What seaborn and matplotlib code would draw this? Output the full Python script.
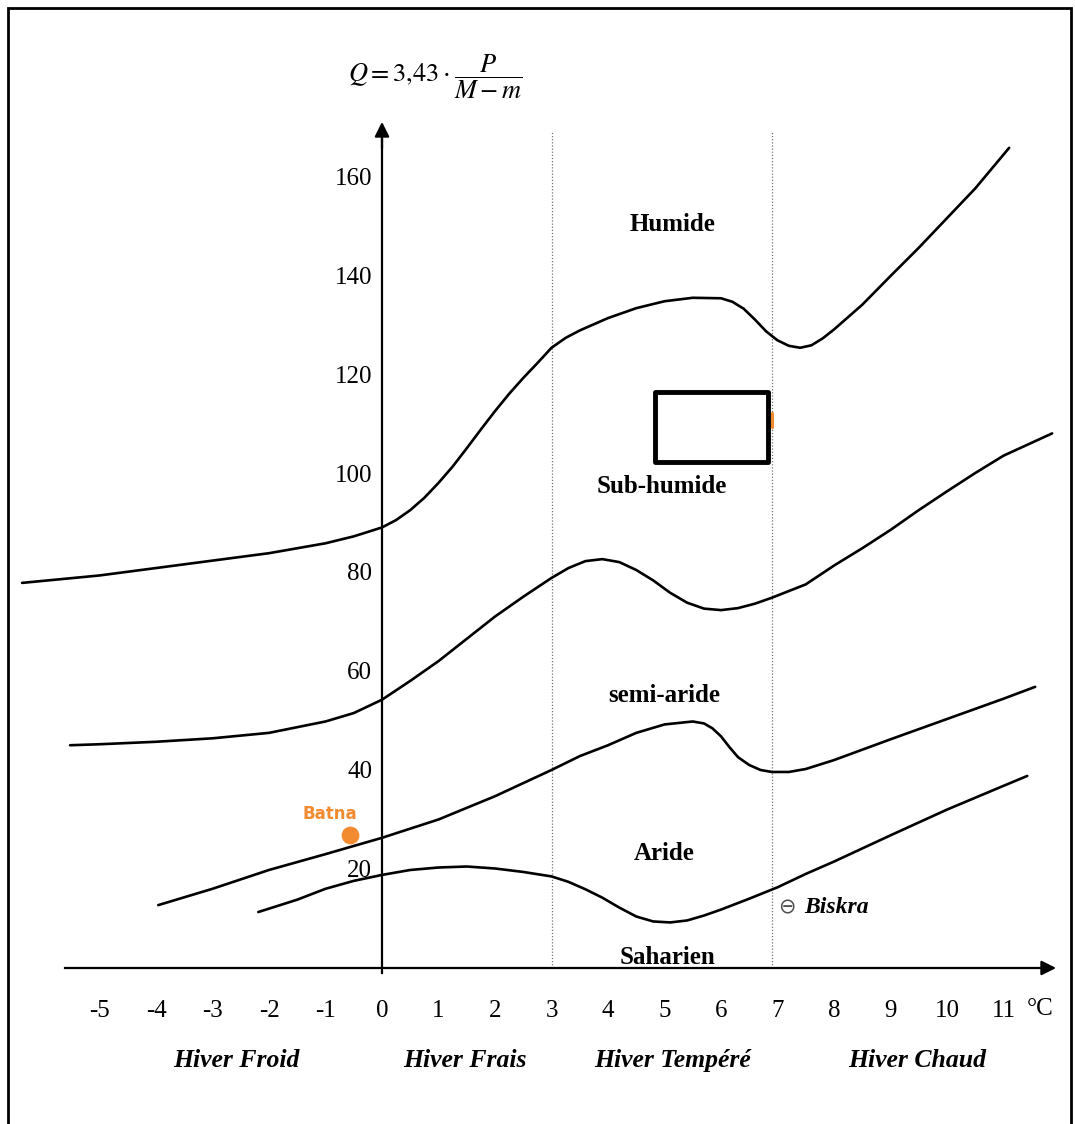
"""
Emberger climagram (Q2 vs m) with the Batna and Biskra stations
"""
import numpy as np
import pandas as pd
import matplotlib
matplotlib.use('Agg')
import matplotlib.pyplot as plt
import seaborn as sns
from matplotlib.patches import Rectangle

# Boundary curves between bioclimatic zones (m in degC, Q2)
t_humide = [-6.37, -5, -4, -3, -2, -1, -0.5, 0, 0.25, 0.5, 0.75, 1.0, 1.25, 1.5, 1.75,
            2.0, 2.25, 2.5, 2.75, 3.0, 3.25, 3.5, 4.0, 4.5, 5.0, 5.5, 6.0, 6.2, 6.4,
            6.6, 6.8, 7.0, 7.2, 7.4, 7.6, 7.8, 8.0, 8.5, 9.0, 9.5, 10.0, 10.5, 11.1]
q_humide = [77.8, 79.3, 80.8, 82.3, 83.8, 85.8, 87.2, 89.0, 90.5, 92.5, 95.0, 98.0,
            101.3, 105.0, 108.8, 112.5, 116.0, 119.2, 122.2, 125.3, 127.3, 128.8,
            131.3, 133.3, 134.7, 135.4, 135.3, 134.6, 133.2, 131.0, 128.6, 126.8,
            125.7, 125.3, 125.8, 127.2, 129.0, 134.0, 139.8, 145.5, 151.5, 157.5, 165.7]

t_subhumide = [-5.52, -5, -4, -3, -2, -1, -0.5, 0, 0.5, 1.0, 1.5, 2.0, 2.5, 3.0, 3.3,
               3.6, 3.9, 4.2, 4.5, 4.8, 5.1, 5.4, 5.7, 6.0, 6.3, 6.6, 6.9, 7.5, 8.0,
               8.5, 9.0, 9.5, 10.0, 10.5, 11.0, 11.86]
q_subhumide = [45.0, 45.2, 45.7, 46.4, 47.5, 49.8, 51.5, 54.2, 58.0, 62.0, 66.5, 71.0,
               75.0, 78.8, 80.8, 82.2, 82.6, 82.0, 80.4, 78.3, 75.8, 73.8, 72.6, 72.3,
               72.7, 73.6, 74.8, 77.5, 81.3, 84.8, 88.5, 92.5, 96.3, 100.0, 103.5, 108.0]

t_semiaride = [-3.96, -3, -2, -1, 0, 1, 2, 3, 3.5, 4, 4.5, 5, 5.5, 5.7, 5.85, 6.0, 6.15,
               6.3, 6.5, 6.7, 6.9, 7.2, 7.5, 8, 9, 10, 11, 11.56]
q_semiaride = [12.7, 16.0, 19.8, 23.0, 26.3, 30.0, 34.7, 40.0, 42.8, 45.0, 47.5, 49.2,
               49.8, 49.4, 48.4, 46.8, 44.6, 42.6, 41.0, 40.0, 39.6, 39.6, 40.2, 42.0,
               46.2, 50.3, 54.4, 56.8]

t_aride = [-2.19, -1.5, -1, -0.5, 0, 0.5, 1, 1.5, 2, 2.5, 3.0, 3.3, 3.6, 3.9, 4.2, 4.5,
           4.8, 5.1, 5.4, 5.7, 6.0, 6.5, 7, 7.5, 8, 9, 10, 11, 11.42]
q_aride = [11.3, 13.8, 16.0, 17.6, 18.8, 19.8, 20.3, 20.5, 20.1, 19.4, 18.5, 17.4,
           15.9, 14.2, 12.2, 10.4, 9.4, 9.2, 9.6, 10.6, 11.8, 14.0, 16.3, 19.0, 21.5,
           26.8, 32.0, 36.8, 38.8]

zone_names = ['Humide', 'Sub-humide', 'semi-aride', 'Aride', 'Saharien']
zone_t = [5.15, 4.96, 5.0, 5.0, 5.06]
zone_q = [150.3, 97.2, 55.0, 23.2, 2.2]

winter_names = ['Hiver Froid', 'Hiver Frais', 'Hiver Tempéré', 'Hiver Chaud']
winter_t = [-2.57, 1.47, 5.15, 9.47]

x_ticks = list(range(-5, 12))
x_labels = [str(v) for v in x_ticks]
y_ticks = [20, 40, 60, 80, 100, 120, 140, 160]
winter_limits = [3, 6.9]

batna_t, batna_q = [-0.57], [26.9]
biskra_t, biskra_q = 7.17, 12.3

orange = '#F28A30'

curves = pd.concat([
    pd.DataFrame({'T': t, 'Q': q, 'curve': name})
    for t, q, name in [(t_humide, q_humide, 'humide'),
                       (t_subhumide, q_subhumide, 'subhumide'),
                       (t_semiaride, q_semiaride, 'semiaride'),
                       (t_aride, q_aride, 'aride')]
], ignore_index=True)

sns.set_style('white')
plt.rcParams['font.family'] = ['Liberation Serif', 'DejaVu Sans']
plt.rcParams['mathtext.fontset'] = 'stix'
plt.rcParams['text.color'] = 'black'

fig = plt.figure(figsize=(10.75, 11.24), dpi=100)
ax = fig.add_axes([0, 0, 1, 1])
ax.set_xlim(-6.761, 12.265)
ax.set_ylim(-31.52, 195.56)

# axes through the origin
for side in ['top', 'right']:
    ax.spines[side].set_visible(False)
ax.spines['left'].set_position(('data', 0))
ax.spines['bottom'].set_position(('data', 0))
ax.spines['left'].set_bounds(-1, 168)
ax.spines['bottom'].set_bounds(-5.61, 11.8)
for side in ['left', 'bottom']:
    ax.spines[side].set_color('black')
    ax.spines[side].set_linewidth(1.6)

ax.annotate('', xy=(11.98, 0), xytext=(11.6, 0),
            arrowprops=dict(arrowstyle='-|>', color='black', lw=1.6, mutation_scale=22))
ax.annotate('', xy=(0, 171.5), xytext=(0, 165),
            arrowprops=dict(arrowstyle='-|>', color='black', lw=1.6, mutation_scale=22))

ax.set_xticks(x_ticks)
ax.set_xticklabels(x_labels)
ax.set_yticks(y_ticks)
ax.tick_params(axis='x', direction='out', length=16, width=1.2, pad=7,
               labelsize=18, colors='black')
ax.tick_params(axis='y', direction='in', length=11, width=1.2, pad=7,
               labelsize=18, colors='black')

ax.vlines(winter_limits, 0, 169, linestyles=(0, (1, 1.5)), colors='0.45', lw=0.9)

sns.lineplot(data=curves, x='T', y='Q', units='curve', estimator=None, sort=False,
             color='black', lw=1.9, ax=ax)
ax.set_xlabel('')
ax.set_ylabel('')

for name, t, q in zip(zone_names, zone_t, zone_q):
    ax.text(t, q, name, ha='center', va='center', fontsize=18, fontweight='bold')

for name, t in zip(winter_names, winter_t):
    ax.text(t, -18.6, name, ha='center', va='center', fontsize=18.5,
            fontweight='bold', style='italic')

ax.text(11.65, -8.3, '°C', ha='center', va='center', fontsize=18)

ax.text(0.94, 180, r'$Q = 3{,}43 \cdot \dfrac{P}{M - m}$', ha='center', va='center',
        fontsize=19)

# stations
sns.scatterplot(x=batna_t, y=batna_q, color=orange, s=140, edgecolor=orange, ax=ax,
                legend=False, zorder=5)
ax.text(-0.92, 31.2, 'Batna', ha='center', va='center', fontsize=12,
        fontweight='bold', color=orange, family='DejaVu Sans')
ax.text(biskra_t, biskra_q, '⊖', ha='center', va='center', fontsize=15, color='0.3',
        family='DejaVu Sans')
ax.text(biskra_t + 0.3, biskra_q, 'Biskra', ha='left', va='center', fontsize=17,
        fontweight='bold', style='italic')

# empty box and its small orange tick
ax.add_patch(Rectangle((4.83, 102.2), 2.0, 14.2, fill=False, lw=3.5, edgecolor='black',
                       joinstyle='round', zorder=4))
ax.plot([6.9, 6.9], [109.2, 112.2], color=orange, lw=2.2)

# frame of the scanned figure
fig.add_artist(Rectangle((8 / 1075, -0.05), (1071 - 8) / 1075, 1.05 - 8 / 1124,
                         transform=fig.transFigure, fill=False, lw=2, edgecolor='black'))

fig.savefig('out.png', dpi=100)
